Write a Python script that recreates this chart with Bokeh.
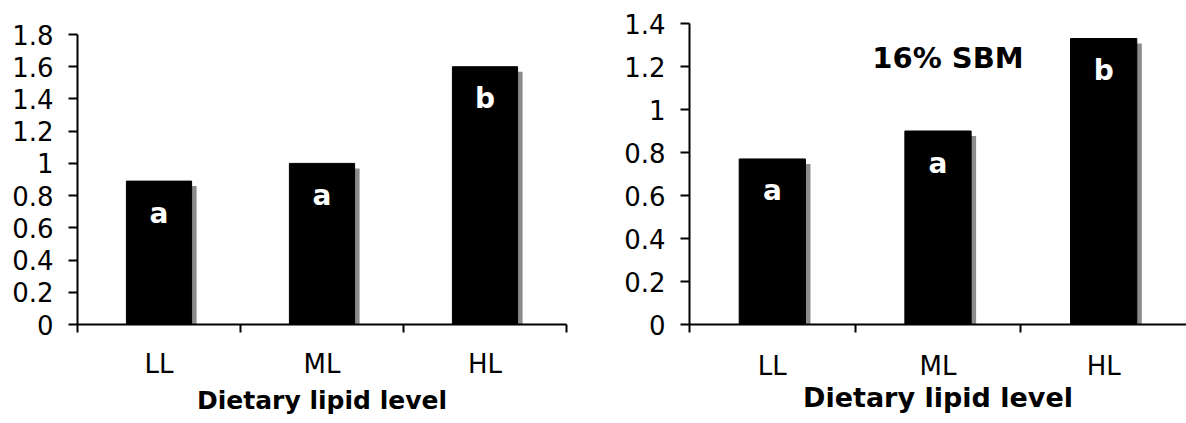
from bokeh.plotting import figure
from bokeh.models import (Range1d, FactorRange, LinearAxis, FixedTicker,
                          NumeralTickFormatter, CustomJSTickFormatter, ColumnDataSource)
from bokeh.transform import dodge
from bokeh.layouts import row
from bokeh.embed import file_html
from bokeh.resources import INLINE
from bokeh.core.properties import value

# ---------------- data ----------------
CATEGORIES = ["LL", "ML", "HL"]
LEFT_VALUES = [0.89, 1.00, 1.60]
LEFT_LETTERS = ["a", "a", "b"]
RIGHT_VALUES = [0.77, 0.90, 1.33]
RIGHT_LETTERS = ["a", "a", "b"]
LEFT_YTICKS = [0, 0.2, 0.4, 0.6, 0.8, 1.0, 1.2, 1.4, 1.6, 1.8]
RIGHT_YTICKS = [0, 0.2, 0.4, 0.6, 0.8, 1.0, 1.2, 1.4]
X_TITLE = "Dietary lipid level"
RIGHT_NOTE = "16% SBM"

# ---------------- style ----------------
FONT = "DejaVu Sans"
SHADOW_PX = 5
HEIGHT = 423
TOP = 23
BOTTOM = 99
FRAME_H = HEIGHT - TOP - BOTTOM


def make_panel(values, letters, yticks, axis_px, width, b_left, b_right,
               n_bounds, title_size, label_standoff, title_standoff):
    ymax = yticks[-1]
    yend = ymax * FRAME_H / axis_px
    frame_w = width - b_left - b_right
    cat_px = frame_w / len(CATEGORIES)

    p = figure(width=width, height=HEIGHT, x_range=FactorRange(factors=CATEGORIES),
               y_range=Range1d(0, yend), output_backend="svg", toolbar_location=None,
               x_axis_location=None, min_border_left=b_left, min_border_right=b_right,
               min_border_top=TOP, min_border_bottom=BOTTOM)
    p.outline_line_color = None
    p.xgrid.visible = False
    p.ygrid.visible = False
    p.background_fill_color = "white"
    p.border_fill_color = "white"

    src = ColumnDataSource(dict(cat=CATEGORIES, val=values, letter=letters,
                                shadow_top=[v - SHADOW_PX * yend / FRAME_H for v in values]))

    # shadow
    p.vbar(x=dodge("cat", SHADOW_PX / cat_px, range=p.x_range), top="shadow_top", bottom=0,
           width=0.4, source=src, fill_color="#8c8c8c", line_color=None)
    # bars
    p.vbar(x="cat", top="val", bottom=0, width=0.4, source=src,
           fill_color="black", line_color="black", line_width=1)
    # significance letters
    p.text(x="cat", y="val", text="letter", source=src, y_offset=32,
           text_color="white", text_font=value(FONT), text_font_style="bold",
           text_font_size="28px", text_align="center", text_baseline="alphabetic")

    # y axis
    ya = p.yaxis[0]
    ya.ticker = FixedTicker(ticks=yticks)
    ya.formatter = NumeralTickFormatter(format="0.[0]")
    ya.bounds = (0, ymax)
    ya.minor_tick_line_color = None
    ya.major_tick_in = 0
    ya.major_tick_out = 9
    ya.major_tick_line_width = 2
    ya.axis_line_width = 2
    ya.major_label_standoff = 15
    ya.major_label_text_font = FONT
    ya.major_label_text_font_size = "26px"
    ya.major_label_text_color = "black"

    # x axis: labels centred on categories, ticks on category boundaries
    xa = LinearAxis(ticker=FixedTicker(ticks=[i + 0.5 for i in range(len(CATEGORIES))],
                                       minor_ticks=list(range(n_bounds))),
                    formatter=CustomJSTickFormatter(args=dict(cats=CATEGORIES),
                                                    code="return cats[Math.floor(tick)] || ''"))
    xa.major_tick_line_color = None
    xa.major_tick_out = 0
    xa.major_tick_in = 0
    xa.minor_tick_in = 0
    xa.minor_tick_out = 8
    xa.minor_tick_line_width = 2
    xa.minor_tick_line_color = "black"
    xa.axis_line_width = 2
    xa.major_label_standoff = label_standoff
    xa.major_label_text_font = FONT
    xa.major_label_text_font_size = "26px"
    xa.major_label_text_color = "black"
    xa.axis_label = X_TITLE
    xa.axis_label_text_font = FONT
    xa.axis_label_text_font_style = "bold"
    xa.axis_label_text_font_size = title_size
    xa.axis_label_text_color = "black"
    xa.axis_label_standoff = title_standoff
    p.add_layout(xa, "below")
    return p


left = make_panel(LEFT_VALUES, LEFT_LETTERS, LEFT_YTICKS, axis_px=290, width=590,
                  b_left=77, b_right=24, n_bounds=len(CATEGORIES) + 1,
                  title_size="25px", label_standoff=16, title_standoff=4)

right = make_panel(RIGHT_VALUES, RIGHT_LETTERS, RIGHT_YTICKS, axis_px=301, width=596,
                   b_left=99, b_right=0, n_bounds=len(CATEGORIES),
                   title_size="27px", label_standoff=18, title_standoff=-2)
right.text(x=["ML"], y=[1.24], text=[RIGHT_NOTE], x_offset=10,
           text_font=value(FONT), text_font_style="bold", text_font_size="29px",
           text_color="black", text_align="center", text_baseline="alphabetic")

layout = row(left, right)
open("out.html", "w").write(file_html(layout, INLINE))
